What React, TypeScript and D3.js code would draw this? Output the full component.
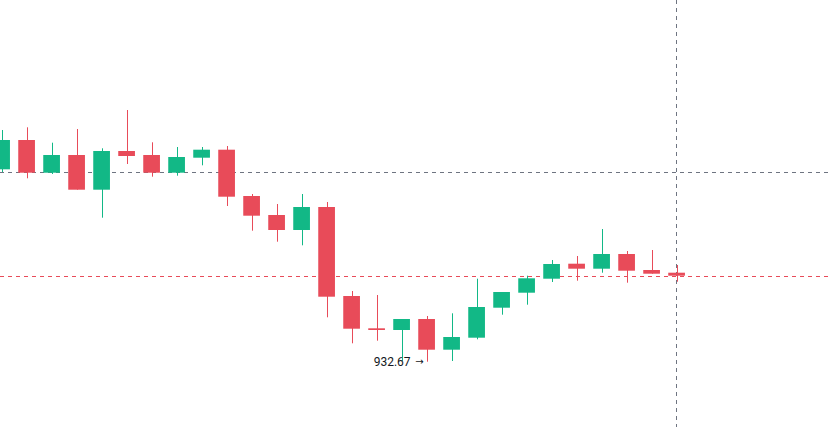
import React from "react";
import * as d3 from "d3";

const W = 831;
const H = 427;

const opens = [951.91, 954.84, 951.57, 953.34, 949.87, 953.74, 953.34, 951.57, 953.07, 953.87, 949.24, 947.34, 945.84, 948.14, 939.24, 936.01, 935.84, 936.94, 933.87, 935.07, 938.07, 939.57, 940.97, 942.47, 941.97, 943.44, 941.84, 941.57];
const highs = [955.84, 956.11, 954.57, 955.94, 954.01, 957.84, 954.61, 954.14, 954.14, 954.24, 949.44, 948.44, 949.44, 948.64, 939.74, 939.34, 936.94, 937.24, 937.51, 940.97, 939.64, 941.27, 942.84, 943.24, 945.94, 943.74, 943.84, 942.34];
const lows = [951.64, 951.01, 951.44, 949.87, 947.07, 952.44, 951.17, 951.27, 952.31, 948.24, 945.77, 944.67, 944.31, 937.11, 934.51, 934.77, 932.74, 932.67, 932.74, 934.91, 937.37, 938.37, 940.64, 940.77, 941.57, 940.57, 941.47, 940.67];
const closes = [954.84, 951.57, 953.34, 949.87, 953.74, 953.24, 951.57, 953.14, 953.87, 949.17, 947.27, 945.84, 948.14, 939.17, 935.97, 935.84, 936.94, 933.87, 935.14, 938.14, 939.64, 941.01, 942.44, 941.97, 943.44, 941.77, 941.47, 941.27];

const crosshairPrice = 951.67;
const crosshairIndex = 27;
const minLabel = "932.67";

const UP = "#12b886";
const DOWN = "#e84b59";
const CROSS = "#6e7481";

export default function App() {
  const n = opens.length;
  const x = d3.scaleLinear().domain([0, n - 1]).range([1.6, 676.6]);
  const y = d3.scaleLinear().domain([926.14, 968.84]).range([H, 0]);
  const bodyW = 16.7;

  const lastClose = closes[n - 1];
  const minIdx = d3.minIndex(lows);

  const candles = d3.range(n).map((i) => {
    const up = closes[i] >= opens[i];
    const color = up ? UP : DOWN;
    const cx = x(i);
    const top = y(Math.max(opens[i], closes[i]));
    const bot = y(Math.min(opens[i], closes[i]));
    const h = Math.max(bot - top, 1.5);
    return (
      <g key={i}>
        <line
          x1={Math.round(cx) + 0.5}
          x2={Math.round(cx) + 0.5}
          y1={y(highs[i])}
          y2={y(lows[i])}
          stroke={color}
          strokeWidth={1}
        />
        <rect x={cx - bodyW / 2} y={top} width={bodyW} height={h} fill={color} />
      </g>
    );
  });

  const yl = Math.round(y(lastClose)) + 0.5;
  const yc = Math.round(y(crosshairPrice)) + 0.5;
  const xc = Math.round(x(crosshairIndex)) - 0.5;
  const lx = x(minIdx);
  const ly = y(lows[minIdx]);

  return (
    <svg
      width={W}
      height={H}
      style={{ position: "absolute", left: 0, top: 0, background: "#ffffff" }}
    >
      <rect x={0} y={0} width={W} height={H} fill="#ffffff" />
      <line x1={0} x2={W} y1={yl} y2={yl} stroke={DOWN} strokeWidth={1} strokeDasharray="4,4" />
      <line x1={0} x2={W} y1={yc} y2={yc} stroke={CROSS} strokeWidth={1} strokeDasharray="4,4" />
      <line x1={xc} x2={xc} y1={0} y2={H} stroke={CROSS} strokeWidth={1} strokeDasharray="4,4" />
      {candles}
      <text
        x={lx - 16}
        y={ly}
        dy="0.35em"
        textAnchor="end"
        fontFamily="Roboto, 'Liberation Sans', Arial, sans-serif"
        fontSize={12}
        fill="#131722"
      >
        {minLabel}
      </text>
      <text
        x={lx - 3}
        y={ly}
        dy="0.35em"
        textAnchor="end"
        fontFamily="'DejaVu Sans', sans-serif"
        fontSize={10}
        fill="#131722"
      >
        →
      </text>
    </svg>
  );
}
